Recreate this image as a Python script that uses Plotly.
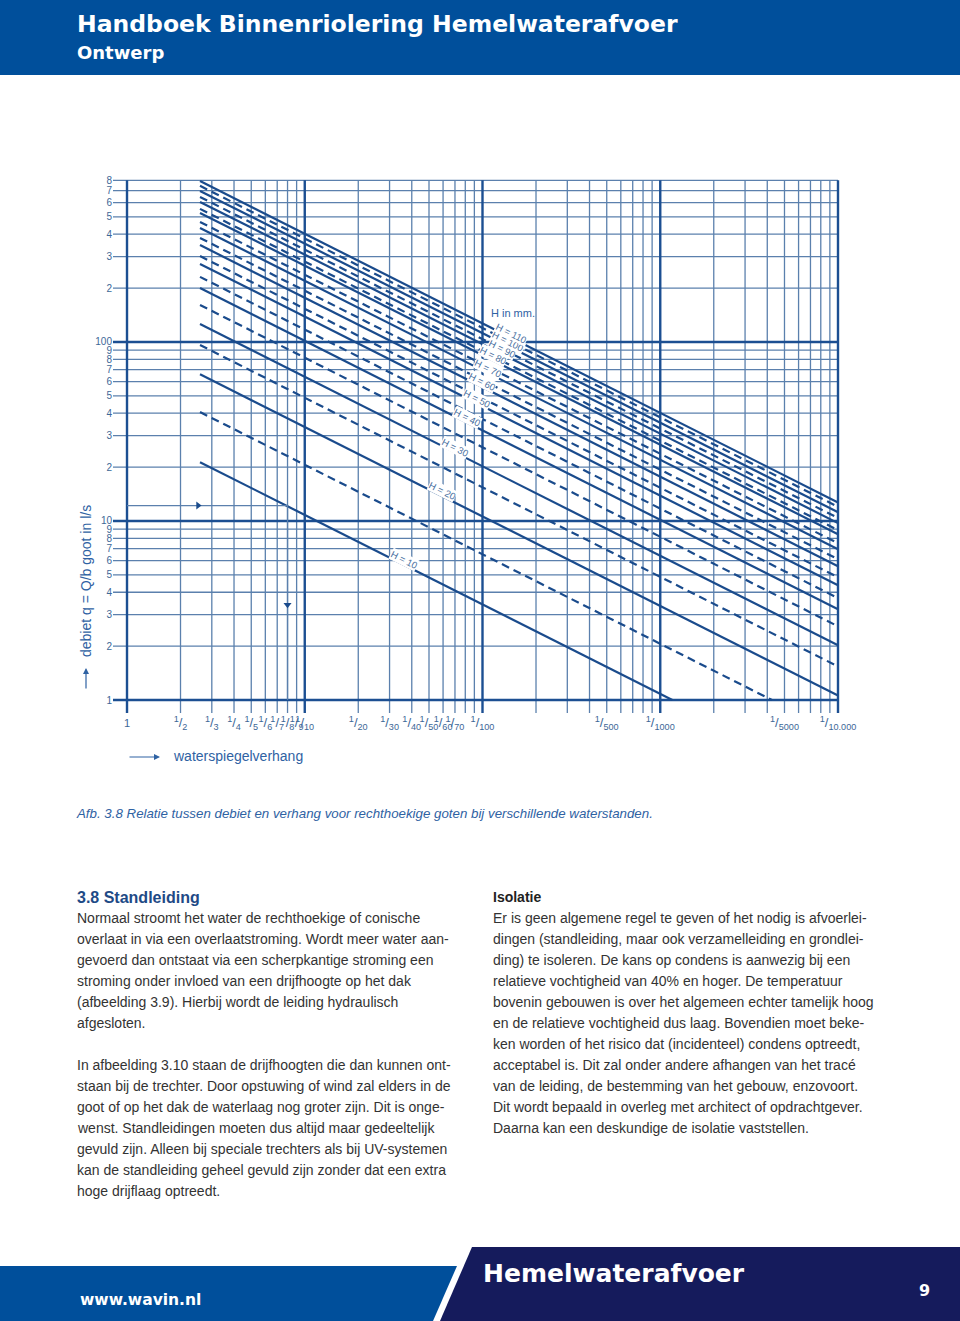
import math
import plotly.graph_objects as go

W, H = 960, 1321

# grid of the nomogram
grid_n = [1, 2, 3, 4, 5, 6, 7, 8, 9, 10, 20, 30, 40, 50, 60, 70, 80, 90, 100,
          200, 300, 400, 500, 600, 700, 800, 900, 1000,
          2000, 3000, 4000, 5000, 6000, 7000, 8000, 9000, 10000]
major_n = [1, 10, 100, 1000, 10000]
grid_q = [1, 2, 3, 4, 5, 6, 7, 8, 9, 10, 20, 30, 40, 50, 60, 70, 80, 90, 100,
          200, 300, 400, 500, 600, 700, 800]
major_q = [1, 10, 100]

x_tick_vals = [1, 2, 3, 4, 5, 6, 7, 8, 9, 10, 20, 30, 40, 50, 60, 70, 100, 500, 1000, 5000, 10000]
x_tick_den = ["", "2", "3", "4", "5", "6", "7", "8", "9", "10", "20", "30", "40", "50",
              "60", "70", "100", "500", "1000", "5000", "10.000"]
y_tick_text = ["1", "2", "3", "4", "5", "6", "7", "8", "9", "10",
               "2", "3", "4", "5", "6", "7", "8", "9", "100",
               "2", "3", "4", "5", "6", "7", "8"]

# H lines (solid = 10, 20, ... 110 mm, dashed = in between)
line_h = [10, 15, 20, 25, 30, 35, 40, 45, 50, 55, 60, 65, 70, 75, 80, 85, 90, 95, 100, 105, 110]
line_n_start = 2.575
line_q_start = [21.3, 40.6, 66, 96.2, 126, 161, 200, 231, 273, 302, 348, 381, 433, 468,
                526, 554, 606, 646, 698, 745, 793]
line_n_end = [1170, 4250, 10000, 10000, 10000, 10000, 10000, 10000, 10000, 10000, 10000,
              10000, 10000, 10000, 10000, 10000, 10000, 10000, 10000, 10000, 10000]
line_q_end = [1, 1, 1.06, 1.54, 2.02, 2.58, 3.21, 3.71, 4.38, 4.85, 5.59, 6.12, 6.95, 7.51,
              8.44, 8.89, 9.73, 10.4, 11.2, 12.0, 12.7]

label_h = [10, 20, 30, 40, 50, 60, 70, 80, 90, 100, 110]
label_n = [36, 59, 70, 82, 93, 99, 108, 115, 128, 140, 146]

example_q = 12.2
example_n = 8

BLUE = "#004f9b"
NAVY = "#151b5c"
GRID_MAJOR = "#1c4f92"
GRID_MINOR = "#5b80ad"
LINE = "#1a4b8c"
TXT_BLUE = "#2f62a3"
TICK = "#3d6797"
BODY = "#333333"

left_col = [
    "Normaal stroomt het water de rechthoekige of conische",
    "overlaat in via een overlaatstroming. Wordt meer water aan-",
    "gevoerd dan ontstaat via een scherpkantige stroming een",
    "stroming onder invloed van een drijfhoogte op het dak",
    "(afbeelding 3.9). Hierbij wordt de leiding hydraulisch",
    "afgesloten.",
    "",
    "In afbeelding 3.10 staan de drijfhoogten die dan kunnen ont-",
    "staan bij de trechter. Door opstuwing of wind zal elders in de",
    "goot of op het dak de waterlaag nog groter zijn. Dit is onge-",
    "wenst. Standleidingen moeten dus altijd maar gedeeltelijk",
    "gevuld zijn. Alleen bij speciale trechters als bij UV-systemen",
    "kan de standleiding geheel gevuld zijn zonder dat een extra",
    "hoge drijflaag optreedt.",
]
right_col = [
    "Er is geen algemene regel te geven of het nodig is afvoerlei-",
    "dingen (standleiding, maar ook verzamelleiding en grondlei-",
    "ding) te isoleren. De kans op condens is aanwezig bij een",
    "relatieve vochtigheid van 40% en hoger. De temperatuur",
    "bovenin gebouwen is over het algemeen echter tamelijk hoog",
    "en de relatieve vochtigheid dus laag. Bovendien moet beke-",
    "ken worden of het risico dat (incidenteel) condens optreedt,",
    "acceptabel is. Dit zal onder andere afhangen van het tracé",
    "van de leiding, de bestemming van het gebouw, enzovoort.",
    "Dit wordt bepaald in overleg met architect of opdrachtgever.",
    "Daarna kan een deskundige de isolatie vaststellen.",
]


def px(x):
    return x / W


def py(y):
    return 1 - y / H


x_range = [-0.0788, 4.0225]
y_range = [-0.0726, 2.916]
n_lo = 10 ** x_range[0]
q_lo = 10 ** y_range[0]

fig = go.Figure()


def grid_trace(vals, horizontal, color, width):
    xs, ys = [], []
    for v in vals:
        if horizontal:
            xs += [n_lo, grid_n[-1], None]
            ys += [v, v, None]
        else:
            xs += [v, v, None]
            ys += [q_lo, grid_q[-1], None]
    fig.add_trace(go.Scatter(x=xs, y=ys, mode="lines", hoverinfo="skip",
                             line=dict(color=color, width=width)))


grid_trace([q for q in grid_q if q not in major_q], True, GRID_MINOR, 1.3)
grid_trace([n for n in grid_n if n not in major_n], False, GRID_MINOR, 1.3)
grid_trace(major_q, True, GRID_MAJOR, 2.4)
grid_trace(major_n, False, GRID_MAJOR, 2.4)

# H lines
for i, h in enumerate(line_h):
    dashed = i % 2 == 1
    fig.add_trace(go.Scatter(
        x=[line_n_start, line_n_end[i]], y=[line_q_start[i], line_q_end[i]],
        mode="lines", hoverinfo="skip",
        line=dict(color=LINE, width=2.2, dash="8px,5px" if dashed else "solid")))

# example reading
fig.add_trace(go.Scatter(x=[1, example_n, example_n], y=[example_q, example_q, 1],
                         mode="lines", hoverinfo="skip",
                         line=dict(color=GRID_MINOR, width=1.3)))
fig.add_trace(go.Scatter(x=[2.51, example_n], y=[example_q, 3.4], mode="markers",
                         hoverinfo="skip",
                         marker=dict(symbol=["triangle-right", "triangle-down"], size=7,
                                     color=LINE)))

annotations = []


def note(x, y, text, size, color, family="Liberation Sans", xanchor="left", **kw):
    annotations.append(dict(x=px(x), y=py(y), xref="paper", yref="paper", text=text,
                            xanchor=xanchor, yanchor="middle", showarrow=False,
                            font=dict(family=family, size=size, color=color), **kw))


# H labels on the solid lines
for h, n in zip(label_h, label_n):
    i = line_h.index(h)
    ln0, ln1 = math.log10(line_n_start), math.log10(line_n_end[i])
    lq0, lq1 = math.log10(line_q_start[i]), math.log10(line_q_end[i])
    t = (math.log10(n) - ln0) / (ln1 - ln0)
    annotations.append(dict(
        x=math.log10(n), y=lq0 + (lq1 - lq0) * t, xref="x", yref="y",
        xanchor="center", yanchor="middle",
        text=f"H = {h}", showarrow=False, textangle=26.7, yshift=5,
        bgcolor="white", borderpad=0,
        font=dict(family="Liberation Sans", size=9.5, color="#4a70a0")))

annotations.append(dict(x=math.log10(148.6), y=math.log10(145), xref="x", yref="y",
                        xanchor="center", yanchor="middle",
                        text="H in mm.", showarrow=False,
                        font=dict(family="Liberation Sans", size=11, color=TXT_BLUE)))

# axis titles and arrows
note(86, 581, "debiet q = Q/b goot in l/s", 14, TXT_BLUE, xanchor="center", textangle=-90)
annotations.append(dict(x=px(86), y=py(668), xref="paper", yref="paper", text="",
                        showarrow=True, ax=0, ay=22, arrowhead=2, arrowsize=1,
                        arrowwidth=1.2, arrowcolor=TXT_BLUE))
note(171, 756, "waterspiegelverhang", 14, TXT_BLUE)
annotations.append(dict(x=px(160), y=py(757), xref="paper", yref="paper", text="",
                        showarrow=True, ax=-32, ay=0, arrowhead=2, arrowsize=1,
                        arrowwidth=1.2, arrowcolor=TXT_BLUE))

# header / caption / body / footer
note(75, 24, "<b>Handboek Binnenriolering Hemelwaterafvoer</b>", 23.5, "white", "DejaVu Sans")
note(75, 52, "<b>Ontwerp</b>", 18, "white", "DejaVu Sans")
note(74, 813, "<i>Afb. 3.8 Relatie tussen debiet en verhang voor rechthoekige "
              "goten bij verschillende waterstanden.</i>", 13.3, TXT_BLUE)
note(75, 897, "<b>3.8 Standleiding</b>", 16, "#1e4a86")
note(491, 897, "<b>Isolatie</b>", 14, "#222222")
for col_x, lines in ((75, left_col), (491, right_col)):
    for k, s in enumerate(lines):
        if s:
            note(col_x, 918 + 21 * k, s, 14, BODY)

note(481, 1273, "<b>Hemelwaterafvoer</b>", 25, "white", "DejaVu Sans")
note(78, 1300, "<b>www.wavin.nl</b>", 15.5, "white", "DejaVu Sans")
note(924, 1290, "<b>9</b>", 16, "white", "DejaVu Sans", xanchor="center")

shapes = [
    dict(type="rect", xref="paper", yref="paper", x0=0, x1=1, y0=py(75), y1=1,
         fillcolor=BLUE, line=dict(width=0), layer="below"),
    dict(type="path", xref="paper", yref="paper", layer="below",
         path=f"M 0 {py(1266)} L {px(457)} {py(1266)} L {px(433)} 0 L 0 0 Z",
         fillcolor=BLUE, line=dict(width=0)),
    dict(type="path", xref="paper", yref="paper", layer="below",
         path=f"M {px(472)} {py(1247)} L 1 {py(1247)} L 1 0 L {px(440)} 0 Z",
         fillcolor=NAVY, line=dict(width=0)),
]

x_tick_text = ["<span style='font-size:11px'>1</span>" if d == "" else
               f"<sup>1</sup>/<sub>{d}</sub>" for d in x_tick_den]

fig.update_layout(
    width=W, height=H,
    margin=dict(l=0, r=0, t=0, b=0, autoexpand=False),
    paper_bgcolor="white", plot_bgcolor="white",
    showlegend=False,
    xaxis=dict(type="log", range=x_range, domain=[px(113), px(842)], automargin=False,
               showgrid=False, zeroline=False, showline=False, ticks="", tickangle=0,
               tickmode="array", tickvals=x_tick_vals, ticktext=x_tick_text,
               tickfont=dict(family="Liberation Sans", size=13, color=TICK)),
    yaxis=dict(type="log", range=y_range, domain=[py(713), py(178)], automargin=False,
               showgrid=False, zeroline=False, showline=False, ticks="",
               tickmode="array", tickvals=grid_q, ticktext=y_tick_text,
               tickfont=dict(family="Liberation Sans", size=10, color=TICK)),
    annotations=annotations,
    shapes=shapes,
)

fig.write_html("out.html", config={"displayModeBar": False},
               post_script="document.body.style.margin='0';document.body.style.overflow='hidden';")
